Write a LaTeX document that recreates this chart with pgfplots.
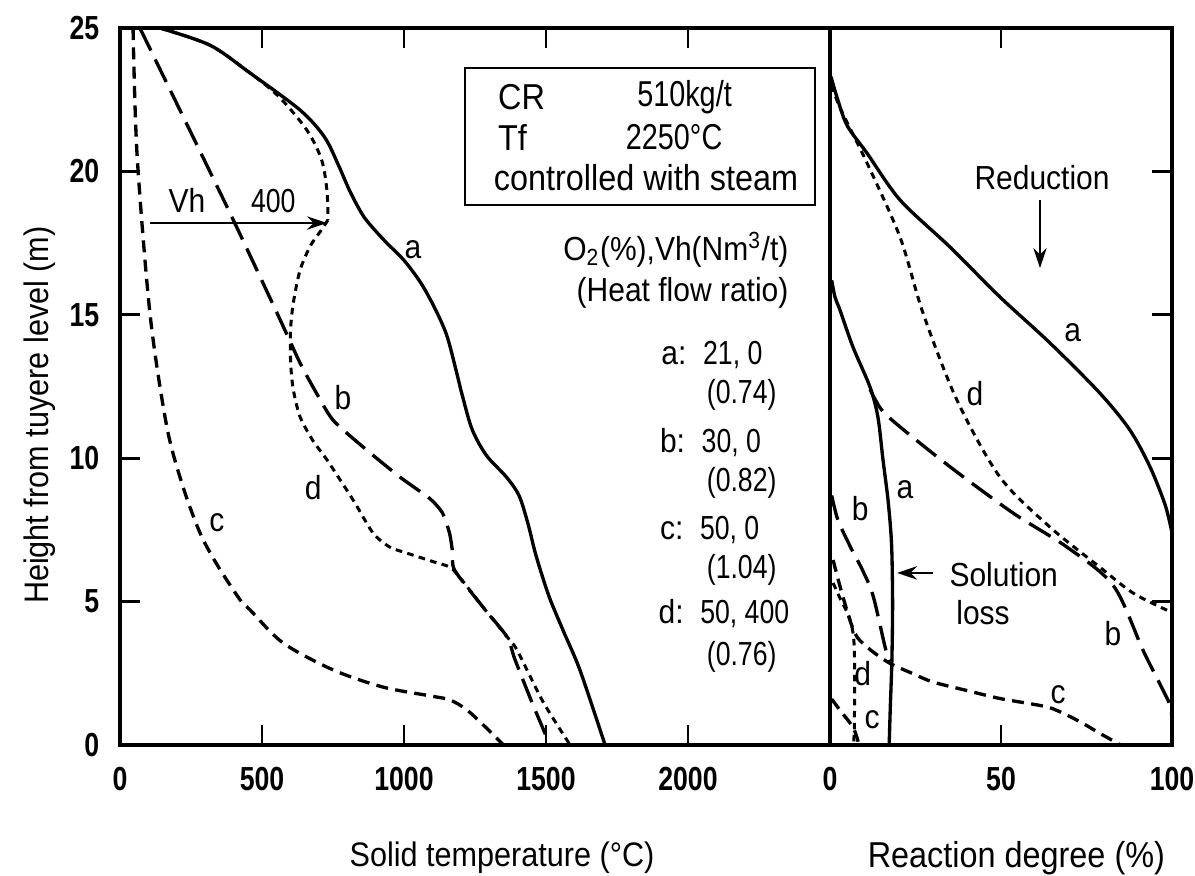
\documentclass[border=0pt]{standalone}
\usepackage{fontspec}
\setmainfont{Liberation Sans}[FakeStretch=0.9]
\newfontfamily\numfont{Liberation Sans}[FakeStretch=0.8]
\usepackage{pgfplots}
\pgfplotsset{compat=1.18}
\usetikzlibrary{arrows.meta}

\newcommand\lbl{\fontsize{10}{12}\selectfont}
\newcommand\num{\numfont\fontsize{10}{12}\selectfont}
\newcommand\boxf{\fontsize{10.8}{13}\selectfont}

\tikzset{
  cA/.style={black, line width=1pt},
  cB/.style={black, line width=1pt, dash pattern=on 7.5pt off 3pt},
  cC/.style={black, line width=1pt, dash pattern=on 3.6pt off 2.2pt},
  cD/.style={black, line width=0.9pt, dash pattern=on 2pt off 1.6pt},
}

\pgfplotsset{
  panel/.style={
    scale only axis,
    height=215.1pt,
    ymin=0, ymax=25,
    ytick={0,5,10,15,20,25},
    axis line style={line width=1pt},
    tick align=inside,
    major tick length=6pt,
    every tick/.style={line width=0.8pt, black},
    tick label style={font=\numfont\bfseries\fontsize{10}{12}\selectfont},
    xticklabel style={yshift=-3pt},
    yticklabel style={xshift=-2.7pt},
    /pgf/number format/assume math mode=true,
    /pgf/number format/set thousands separator={},
    clip=false,
  }
}

\begin{document}
\begin{tikzpicture}
% left panel: solid temperature
\begin{axis}[
  panel,
  width=213pt,
  at={(0,0)}, anchor=south west,
  xmin=0, xmax=2500,
  xtick={0,500,1000,1500,2000},
  ytick pos=left,
  xlabel={Solid temperature (°C)},
  ylabel={Height from tuyere level (m)},
  xlabel style={font=\fontsize{10.2}{12}\selectfont, at={(axis description cs:0.538,-0.1576)}, anchor=center},
  ylabel style={font=\fontsize{10.2}{12}\selectfont, at={(axis description cs:-0.1127,0.46)}, anchor=center},
]
% a
\addplot[cA, smooth, tension=0.5] coordinates {
  (140,25) (317,24.4) (458,23.43) (634,22.14) (720,21.2) (770,20.2)
  (810,19.3) (860,18.4) (930,17.6) (1000,16.9) (1060,16.1) (1110,15.2)
  (1150,14.3) (1180,13.2) (1205,12.2) (1240,11.0) (1290,10.1)
  (1360,9.35) (1405,8.7) (1437,7.7) (1465,6.6) (1510,5.2) (1560,4.0)
  (1620,2.6) (1708,0)};
% b
\addplot[cB, smooth, tension=0.4] coordinates {
  (70,25) (377,18.76) (553,15.06) (634,13.32) (690,12.3) (750,11.33)
  (856,10.39) (986,9.34) (1090,8.6) (1135,8.1) (1160,7.4) (1170,6.8)
  (1178,6.1) (1278,4.81) (1363,3.77) (1390,3.0) (1450,1.5) (1514,0)};
% c
\addplot[cC, smooth, tension=0.5] coordinates {
  (46,25) (60,20.6) (106,15.0) (165,11.09) (222,9.0) (282,7.39)
  (341,6.3) (423,5.06) (458,4.71) (574,3.56) (750,2.62) (926,2.02)
  (1100,1.7) (1162,1.57) (1222,1.22) (1300,0.5) (1350,0)};
% d
\addplot[cD, smooth, tension=0.5] coordinates {
  (140,25) (317,24.4) (458,23.43) (560,22.6) (658,21.44) (710,20.4)
  (729,19.3) (732,18.3)};
\addplot[cD, smooth, tension=0.45] coordinates {
  (732,18.3) (705,17.9) (670,17.4) (634,16.56) (610,15.4) (600,14.4)
  (601,13.3) (610,12.4) (634,11.44) (680,10.6) (729,9.94) (821,8.54)
  (891,7.39) (950,6.9) (1011,6.69) (1100,6.4) (1162,6.2) (1200,5.8)
  (1278,4.81) (1363,3.77) (1398,3.31) (1490,1.5) (1585,0)};

% Vh arrow
\draw[line width=0.8pt, -{Stealth[length=6pt, width=4pt]}] (axis cs:106,18.2) -- (axis cs:729,18.2);
\node[font=\lbl, anchor=base west] at (axis cs:130,18.55) {Vh};
\node[font=\num, anchor=base west] at (axis cs:420,18.55) {400};

% curve labels
\node[font=\lbl] at (axis cs:1032,17.26) {a};
\node[font=\lbl] at (axis cs:785,12.13) {b};
\node[font=\lbl] at (axis cs:341,7.74) {c};
\node[font=\lbl] at (axis cs:680,8.96) {d};

% condition box
\draw[line width=0.7pt] (axis cs:1215,18.83) rectangle (axis cs:2447,23.6);
\node[font=\boxf, anchor=west] at (axis cs:1290,22.6) {CR};
\node[font=\numfont\fontsize{10.8}{13}\selectfont, anchor=west] at (axis cs:1780,22.6) {510kg/t};
\node[font=\boxf, anchor=west] at (axis cs:1290,21.2) {Tf};
\node[font=\numfont\fontsize{10.8}{13}\selectfont, anchor=west] at (axis cs:1740,21.2) {2250°C};
\node[font=\boxf, anchor=west] at (axis cs:1275,19.8) {controlled with steam};

% legend text
\node[font=\lbl, anchor=east] at (axis cs:2395,17.26) {O\textsubscript{2}(\%),Vh(Nm\textsuperscript{3}/t)};
\node[font=\lbl, anchor=east] at (axis cs:2395,15.76) {(Heat flow ratio)};
\node[font=\lbl, anchor=west] at (axis cs:1865,13.6) {a:\ \ \num 21, 0};
\node[font=\num, anchor=west] at (axis cs:2025,12.2) {(0.74)};
\node[font=\lbl, anchor=west] at (axis cs:1860,10.53) {b:\ \ \num 30, 0};
\node[font=\num, anchor=west] at (axis cs:2025,9.13) {(0.82)};
\node[font=\lbl, anchor=west] at (axis cs:1860,7.5) {c:\ \ \num 50, 0};
\node[font=\num, anchor=west] at (axis cs:2025,6.1) {(1.04)};
\node[font=\lbl, anchor=west] at (axis cs:1855,4.6) {d:\ \ \num 50, 400};
\node[font=\num, anchor=west] at (axis cs:2025,3.07) {(0.76)};
\end{axis}

% right panel: reaction degree
\begin{axis}[
  panel,
  width=102.6pt,
  at={(213pt,0)}, anchor=south west,
  xmin=0, xmax=100,
  xtick={0,50,100},
  ytick pos=right,
  yticklabels={},
  xlabel={Reaction degree (\%)},
  xlabel style={font=\fontsize{10.8}{12}\selectfont, at={(axis description cs:0.545,-0.1576)}, anchor=center},
]
% reduction
\addplot[cA, smooth, tension=0.5] coordinates {
  (0.3,23.3) (2,22.6) (5,21.6) (10.8,20.64) (20.5,19.0) (35.1,17.36)
  (49.7,15.62) (64.3,14.02) (78.9,12.27) (87.7,10.98) (93.6,9.69)
  (98,8.37) (100,7.4)};
\addplot[cB, smooth, tension=0.5] coordinates {
  (11.7,12.4) (15,11.7) (20.5,11.09) (35.1,9.7) (53.5,8.09) (69.3,6.9)
  (82.9,5.55) (91.5,3.31) (97,2.0) (99.4,1.4) (100,0.9)};
\addplot[cC, smooth, tension=0.5] coordinates {
  (0.9,6.45) (3,5.5) (5.8,4.36) (8,3.75) (12,3.3) (17.5,2.85) (24,2.5)
  (30,2.2) (40,1.9) (49.7,1.62) (58,1.45) (64.3,1.3) (70,1.0) (74,0.75)
  (79,0.4) (85,0)};
\addplot[cD, smooth, tension=0.5] coordinates {
  (0.5,23.0) (3,22.2) (10.8,20.3) (20.5,17.7) (27.2,15.06) (37.1,12.03)
  (49.7,9.34) (64.3,7.6) (78.9,6.2) (88.6,5.3) (98.5,4.7) (100,4.6)};
% solution loss
\addplot[cA, smooth, tension=0.5] coordinates {
  (0.5,16.2) (1.5,15.6) (2.9,15.17) (6.7,13.88) (11.7,12.48) (14.0,11.44)
  (15.5,9.94) (17.0,8.5) (18.0,7.0) (18.3,5.0) (18.1,3.0) (17.6,1.2) (17.3,0)};
\addplot[cB, smooth, tension=0.5] coordinates {
  (0.5,8.7) (2.3,7.85) (6,6.9) (9.5,6.1) (12.6,5.2) (16.1,3.42) (17.5,2.9)};
\addplot[cC, smooth, tension=0.5] coordinates {
  (0.5,1.6) (3,1.2) (6.8,0.6) (8.5,0)};
\addplot[cD, smooth, tension=0.5] coordinates {
  (0.9,5.65) (3,5.1) (5.8,4.4) (7.0,3.6) (7.2,2.0) (7.1,0.6) (6.9,0)};

% annotations
\node[font=\lbl] at (axis cs:62,19.8) {Reduction};
\draw[line width=0.8pt, -{Stealth[length=6pt, width=4pt]}] (axis cs:61.4,19.0) -- (axis cs:61.4,16.63);
\draw[line width=0.8pt, -{Stealth[length=6pt, width=4pt]}] (axis cs:30.1,6.0) -- (axis cs:19.6,6.0);
\node[font=\lbl, anchor=west] at (axis cs:31.5,5.93) {Solution};
\node[font=\lbl, anchor=west] at (axis cs:33.5,4.6) {loss};

\node[font=\lbl] at (axis cs:71,14.37) {a};
\node[font=\lbl] at (axis cs:42.4,12.27) {d};
\node[font=\lbl] at (axis cs:82.7,3.9) {b};
\node[font=\lbl] at (axis cs:66.7,1.74) {c};
\node[font=\lbl] at (axis cs:21.9,8.9) {a};
\node[font=\lbl] at (axis cs:8.8,8.26) {b};
\node[font=\lbl] at (axis cs:9.6,2.5) {d};
\node[font=\lbl] at (axis cs:12.3,0.87) {c};
\end{axis}

\pgfresetboundingbox
\useasboundingbox (-36pt,-39pt) rectangle (322.5pt,223.5pt);
\end{tikzpicture}
\end{document}
